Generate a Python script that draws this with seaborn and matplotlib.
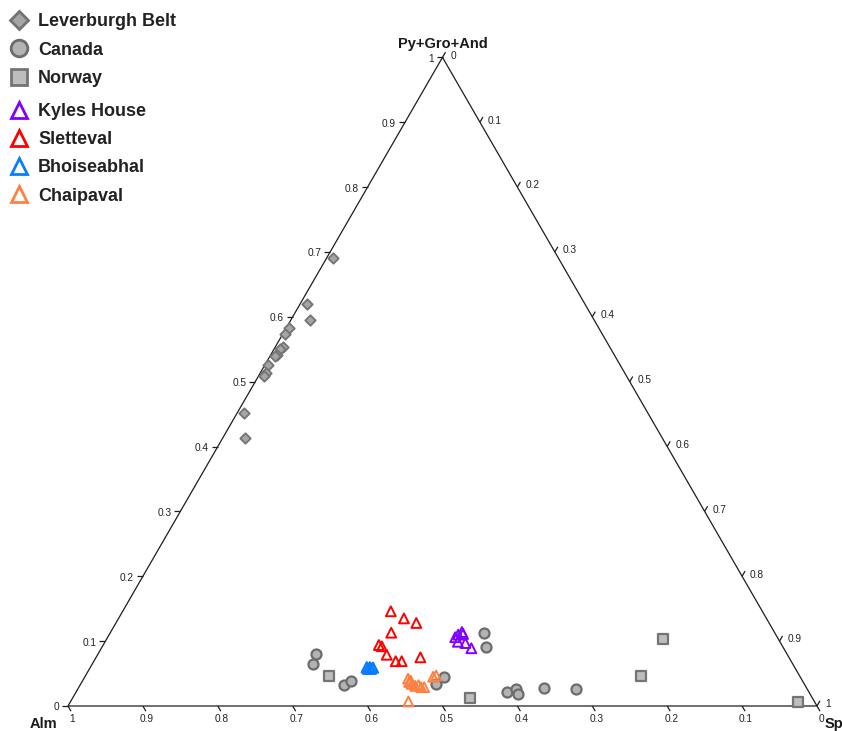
import numpy as np
import pandas as pd
import matplotlib
matplotlib.use("Agg")
import matplotlib.pyplot as plt
import seaborn as sns
from matplotlib.lines import Line2D

sns.set_theme(style="white")
plt.rcParams["font.family"] = ["Liberation Sans", "DejaVu Sans"]

# Garnet compositions as end-member fractions: Sps and Py+Gro+And (Alm is the remainder)
lev_sps = [0.009, 0.009, 0.025, 0.004, 0.003, 0.010, 0.008, 0.008, 0.007, 0.005, 0.008, 0.007, 0.009, 0.030]
lev_pga = [0.690, 0.620, 0.595, 0.582, 0.574, 0.554, 0.550, 0.541, 0.539, 0.525, 0.514, 0.509, 0.452, 0.413]

can_sps = [0.291, 0.294, 0.352, 0.359, 0.499, 0.512, 0.480, 0.474, 0.575, 0.585, 0.591, 0.621, 0.665]
can_pga = [0.080, 0.065, 0.032, 0.039, 0.113, 0.091, 0.045, 0.034, 0.021, 0.026, 0.019, 0.028, 0.026]

nor_sps = [0.325, 0.530, 0.742, 0.742, 0.971]
nor_pga = [0.047, 0.013, 0.104, 0.046, 0.006]

kyl_sps = [0.464, 0.466, 0.469, 0.472, 0.471, 0.482, 0.494]
kyl_pga = [0.106, 0.110, 0.114, 0.111, 0.099, 0.097, 0.089]

sle_sps = [0.358, 0.381, 0.401, 0.375, 0.368, 0.373, 0.386, 0.403, 0.411, 0.433]
sle_pga = [0.146, 0.135, 0.128, 0.113, 0.094, 0.092, 0.079, 0.069, 0.069, 0.075]

bho_sps = [0.369, 0.369, 0.372, 0.373, 0.373, 0.376, 0.377, 0.378]
bho_pga = [0.059, 0.060, 0.057, 0.059, 0.060, 0.057, 0.059, 0.059]

cha_sps = [0.433, 0.437, 0.438, 0.442, 0.448, 0.452, 0.457, 0.461, 0.465, 0.468, 0.451]
cha_pga = [0.042, 0.037, 0.039, 0.034, 0.031, 0.032, 0.029, 0.029, 0.045, 0.047, 0.007]

tick_values = [0, 0.1, 0.2, 0.3, 0.4, 0.5, 0.6, 0.7, 0.8, 0.9, 1]
corner_labels = ["Alm", "Sps", "Py+Gro+And"]

# name, data, marker, face, edge, size, linewidth
groups = [
    ("Leverburgh Belt", lev_sps, lev_pga, "D", "#a5a5a5", "#737373", 28, 1.3),
    ("Canada", can_sps, can_pga, "o", "#b3b3b3", "#6c6c6c", 52, 1.6),
    ("Norway", nor_sps, nor_pga, "s", "#bdbdbd", "#747474", 44, 1.6),
    ("Kyles House", kyl_sps, kyl_pga, "^", "none", "#8000ff", 50, 1.4),
    ("Sletteval", sle_sps, sle_pga, "^", "none", "#ff0000", 50, 1.4),
    ("Bhoiseabhal", bho_sps, bho_pga, "^", "none", "#0a7cff", 50, 1.4),
    ("Chaipaval", cha_sps, cha_pga, "^", "none", "#ff8142", 50, 1.4),
]

rows = []
for name, sps, pga, *_ in groups:
    for s, p in zip(sps, pga):
        rows.append({"group": name, "Alm": 1 - s - p, "Sps": s, "PGA": p})
df = pd.DataFrame(rows)

H = np.sqrt(3) / 2
df["x"] = df["Sps"] + df["PGA"] / 2
df["y"] = df["PGA"] * H

# figure layout: triangle side spans 749 px, Alm corner at (68, 706) px
W, HT = 842, 731
SC = 749.0
X0, Y0 = 68, 706
fig = plt.figure(figsize=(W / 100, HT / 100), dpi=100)
fig.patch.set_facecolor("white")
ax = fig.add_axes([0, 0, 1, 1])
ax.set_xlim(-X0 / SC, (W - X0) / SC)
ax.set_ylim(-(HT - Y0) / SC, Y0 / SC)
ax.set_axis_off()

line_kw = dict(color="#1e1e1e", lw=0.9, solid_capstyle="butt", zorder=1)
ax.plot([0, 1, 0.5, 0], [0, 0, H, 0], **line_kw)

t = 6 / SC
gap = 3 / SC
tick_fs = 7.3
def fmt(v):
    return "0" if v == 0 else ("1" if v == 1 else f"{v:.1f}")

for v in tick_values:
    lab = fmt(v)
    # left axis: Py+Gro+And
    px, py = v / 2, v * H
    ax.plot([px, px - t], [py, py], **line_kw)
    ax.text(px - t - gap, py - 1.5 / SC, lab, ha="right", va="center", fontsize=tick_fs, color="#222")
    # bottom axis: Alm
    px, py = 1 - v, 0
    ex, ey = px + 0.5 * t, py - H * t
    ax.plot([px, ex], [py, ey], **line_kw)
    ax.text(ex + 1 / SC, ey - gap, lab, ha="center", va="top", fontsize=tick_fs, color="#222")
    # right axis: Sps
    px, py = v + (1 - v) / 2, (1 - v) * H
    ex, ey = px + 0.5 * t, py + H * t
    ax.plot([px, ex], [py, ey], **line_kw)
    ax.text(ex + gap + 2 / SC, ey - 3.5 / SC, lab, ha="left", va="center", fontsize=tick_fs, color="#222")

lab_kw = dict(fontsize=10.5, fontweight="bold", color="#1a1a1a")
ax.text(-24.5 / SC, -18 / SC, corner_labels[0], ha="center", va="center", **lab_kw)
ax.text(1 + 8 / SC, -18 / SC, corner_labels[1], ha="left", va="center", **lab_kw)
ax.text(0.5, H + 13 / SC, corner_labels[2], ha="center", va="center", **lab_kw)

for name, sps, pga, mk, fc, ec, s, lw in groups:
    sub = df[df["group"] == name]
    sns.scatterplot(data=sub, x="x", y="y", marker=mk, s=s, facecolor=fc,
                    edgecolor=ec, linewidth=lw, ax=ax, legend=False, zorder=3, clip_on=False)

def handle(mk, fc, ec, ms, lw):
    return Line2D([], [], marker=mk, linestyle="none", markersize=ms,
                  markerfacecolor=fc, markeredgecolor=ec, markeredgewidth=lw)

leg_sizes = {"D": 9.0, "o": 12.0, "s": 11.5, "^": 12.0}
hs = [handle(g[3], g[4], g[5], leg_sizes[g[3]], 2.0) for g in groups]
names = [g[0] for g in groups]
leg_kw = dict(frameon=False, borderpad=0, borderaxespad=0, handlelength=1.0,
              handletextpad=0.55, labelspacing=0.62, loc="upper left",
              bbox_transform=fig.transFigure,
              prop={"size": 13, "weight": "bold"}, labelcolor="#222")
leg1 = ax.legend(hs[:3], names[:3], bbox_to_anchor=(10 / W, 1 - 13.5 / HT), **leg_kw)
ax.add_artist(leg1)
ax.legend(hs[3:], names[3:], bbox_to_anchor=(10 / W, 1 - 103 / HT), **leg_kw)

fig.savefig("out.png", dpi=100, facecolor="white")
